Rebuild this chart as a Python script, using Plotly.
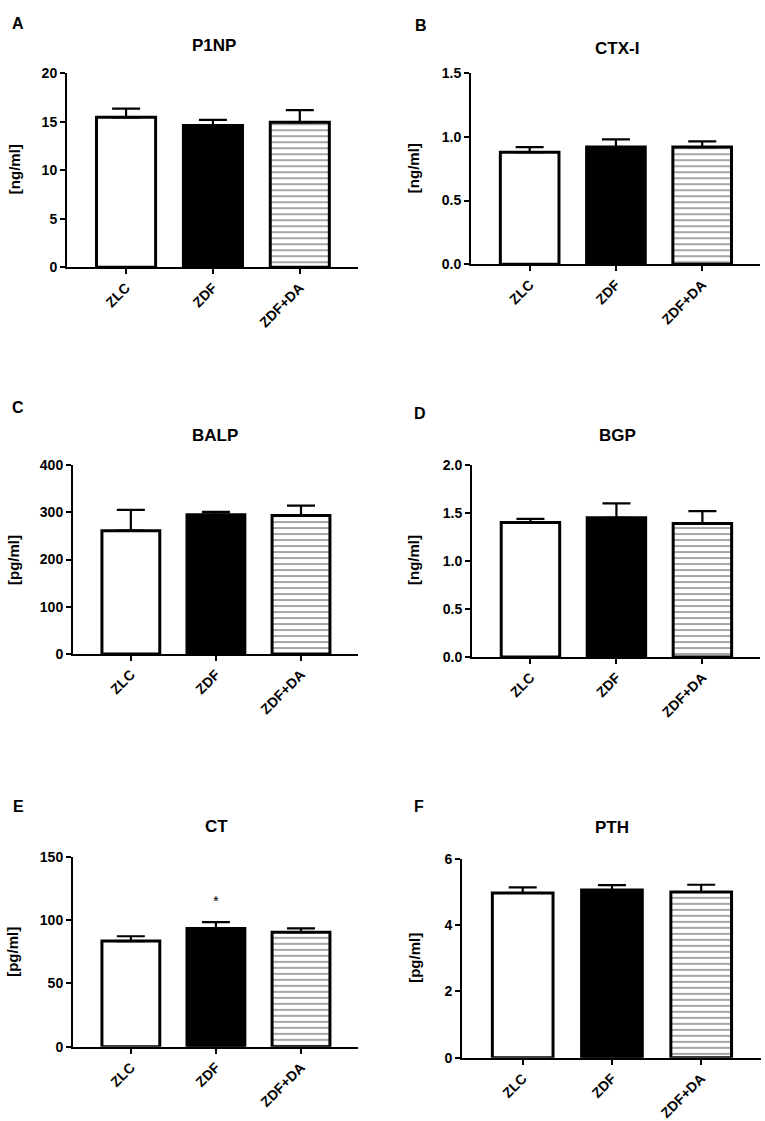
import plotly.graph_objects as go

groups = ['ZLC', 'ZDF', 'ZDF+DA']

# panel letters, titles, units
letters = ['A', 'B', 'C', 'D', 'E', 'F']
titles = ['P1NP', 'CTX-I', 'BALP', 'BGP', 'CT', 'PTH']
units = ['[ng/ml]', '[ng/ml]', '[pg/ml]', '[ng/ml]', '[pg/ml]', '[pg/ml]']

# means and SEM
p1np_mean = [15.45, 14.6, 14.95]
p1np_sem = [0.9, 0.6, 1.25]
ctx_mean = [0.88, 0.92, 0.92]
ctx_sem = [0.04, 0.06, 0.045]
balp_mean = [261, 295, 293]
balp_sem = [44, 6, 21]
bgp_mean = [1.40, 1.45, 1.39]
bgp_sem = [0.04, 0.15, 0.13]
ct_mean = [83.5, 93.5, 90.5]
ct_sem = [3.8, 5.0, 3.0]
pth_mean = [4.97, 5.06, 5.0]
pth_sem = [0.17, 0.15, 0.22]

means = [p1np_mean, ctx_mean, balp_mean, bgp_mean, ct_mean, pth_mean]
sems = [p1np_sem, ctx_sem, balp_sem, bgp_sem, ct_sem, pth_sem]

# y axis max and tick step per panel
y_max = [20, 1.5, 400, 2.0, 150, 6]
y_step = [5, 0.5, 100, 0.5, 50, 2]
y_fmt = ['d', '.1f', 'd', '.1f', 'd', 'd']

# layout in pixels: panel boxes (left axis x, right end x, top y, zero y)
W, H = 765, 1121
boxes = [
    (67, 358, 73, 267),
    (471, 760, 73, 264),
    (73, 358, 465, 654),
    (472, 760, 465, 657),
    (73, 358, 857, 1047),
    (462, 761, 859, 1058),
]
# text centres (x, y) in pixels
letter_pos = [(18, 23), (421, 25), (18, 407), (420, 413), (18, 807), (419, 807)]
title_pos = [(214, 45), (617, 48), (215, 435), (617, 435), (216, 827), (612, 828)]
unit_pos = [(14, 169), (413, 168), (13, 560), (413, 560), (13, 952), (415, 958)]


def py(y):
    # pixel row -> paper y (small stretch about the middle, the render came out a bit squashed)
    y = 560 + (y - 560) * 1.014
    return 1 - y / H


FONT = 'Liberation Sans, Arial, sans-serif'

fig = go.Figure()
annotations = []

for i in range(6):
    n = '' if i == 0 else str(i + 1)
    xl, xr, yt, yb = boxes[i]

    fig.add_trace(go.Bar(
        x=groups, y=means[i],
        xaxis='x' + n, yaxis='y' + n,
        width=0.68,
        marker=dict(
            color=['white', 'black', 'white'],
            line=dict(color='black', width=3),
            pattern=dict(shape=['', '', '-'], fgcolor='#222222', bgcolor='white',
                         size=6, solidity=0.32),
        ),
        error_y=dict(type='data', symmetric=False, array=sems[i],
                     arrayminus=[0, 0, 0], color='black', thickness=2.2, width=14),
        showlegend=False,
    ))

    fig.update_layout(**{
        'xaxis' + n: dict(
            domain=[xl / W, xr / W], anchor='y' + n,
            range=[-0.68, 2.67], showline=True, linecolor='black', linewidth=2,
            ticks='outside', ticklen=5, tickwidth=2, tickcolor='black',
            tickangle=-45, showgrid=False, zeroline=False,
            tickfont=dict(family=FONT, size=14, color='black', weight='bold'),
        ),
        'yaxis' + n: dict(
            domain=[py(yb), py(yt)], anchor='x' + n,
            range=[0, y_max[i]], dtick=y_step[i], tick0=0, tickformat=y_fmt[i],
            showline=True, linecolor='black', linewidth=2,
            ticks='outside', ticklen=5, tickwidth=2, tickcolor='black',
            showgrid=False, zeroline=False,
            tickfont=dict(family=FONT, size=14, color='black', weight='bold'),
        ),
    })

    lx, ly = letter_pos[i]
    annotations.append(dict(
        text='<b>' + letters[i] + '</b>', x=lx / W, y=py(ly),
        xref='paper', yref='paper', showarrow=False,
        xanchor='center', yanchor='middle',
        font=dict(family=FONT, size=16, color='black'),
    ))
    tx, ty = title_pos[i]
    annotations.append(dict(
        text='<b>' + titles[i] + '</b>', x=tx / W, y=py(ty),
        xref='paper', yref='paper', showarrow=False,
        xanchor='center', yanchor='middle',
        font=dict(family=FONT, size=17, color='black'),
    ))
    ux, uy = unit_pos[i]
    annotations.append(dict(
        text='<b>' + units[i] + '</b>', x=ux / W, y=py(uy),
        xref='paper', yref='paper', showarrow=False, textangle=-90,
        xanchor='center', yanchor='middle',
        font=dict(family=FONT, size=15, color='black'),
    ))

# significance star on CT / ZDF
annotations.append(dict(
    text='*', x='ZDF', y=ct_mean[1] + ct_sem[1] + 17, xref='x5', yref='y5',
    showarrow=False, font=dict(family=FONT, size=15, color='black'),
))

fig.update_layout(
    width=W, height=H,
    margin=dict(l=0, r=0, t=0, b=0),
    plot_bgcolor='white', paper_bgcolor='white',
    annotations=annotations,
    bargap=0.3,
)

page_fix = ("document.body.style.margin='0';"
            "document.body.style.overflow='hidden';"
            "document.documentElement.style.overflow='hidden';")
fig.write_html('out.html', config={'displayModeBar': False}, post_script=page_fix)
